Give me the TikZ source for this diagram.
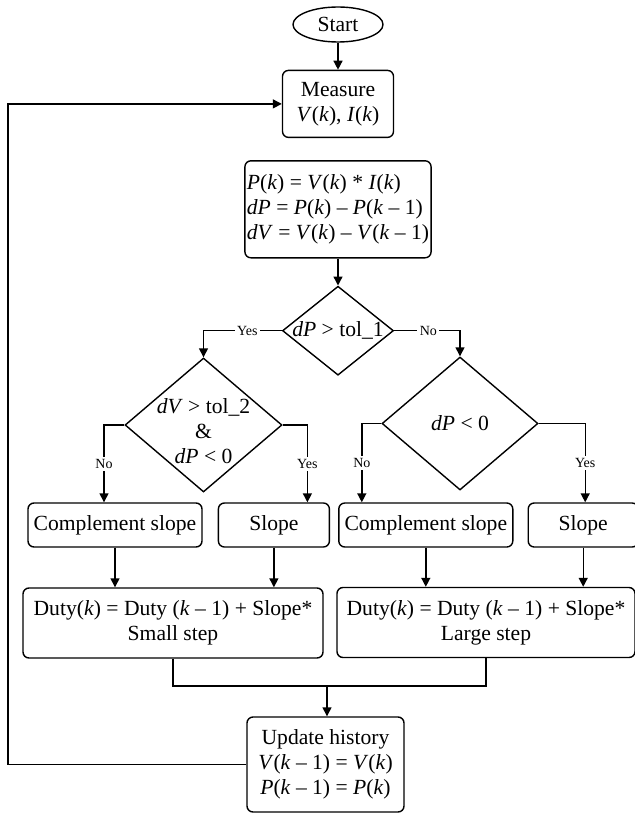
\documentclass[tikz,border=0pt]{standalone}
\usepackage{fontspec}
\setmainfont{Liberation Serif}
\usepackage{tikz}
\usetikzlibrary{arrows.meta, positioning, shapes.geometric}
\newcommand{\iv}[1]{\textit{#1}}

\begin{document}
\begin{tikzpicture}[
  x=0.5pt, y=-0.5pt,
  line width=0.7pt,
  font=\fontsize{10.8}{12.6}\selectfont,
  box/.style={draw, rounded corners=3pt, align=center, inner sep=1pt},
  slopebox/.style={box, minimum height=22pt},
  dutybox/.style={box, minimum width=150pt, minimum height=35pt},
  decision/.style={draw, diamond, inner sep=0pt},
  terminal/.style={draw, ellipse, inner sep=0pt, minimum width=45pt,
                   minimum height=17.5pt},
  lbl/.style={fill=white, inner sep=1.2pt, font=\fontsize{7}{8}\selectfont},
  arrow/.style={-{Triangle[length=4.5pt, width=4.5pt]}}
]
\useasboundingbox (0,0) rectangle (635,813);

\node[terminal] (start) at (338,24.5) {Start};

\node[box, minimum width=55.5pt, minimum height=33.5pt, below=13.5pt of start] (measure)
  {Measure\\\iv{V}(\iv{k}), \iv{I}(\iv{k})};

\node[box, align=left, minimum width=90pt, minimum height=48.5pt, below=11pt of measure] (calc)
  {\iv{P}(\iv{k}) = \iv{V}(\iv{k}) * \iv{I}(\iv{k})\\
   \iv{dP} = \iv{P}(\iv{k}) – \iv{P}(\iv{k} – 1)\\
   \iv{dV} = \iv{V}(\iv{k}) – \iv{V}(\iv{k} – 1)};

\node[decision, minimum width=55.5pt, minimum height=44.5pt, below=13.5pt of calc,
      label=center:{\iv{dP} > tol\_1}] (tol1) {};

\node[decision, minimum width=78.5pt, minimum height=67pt,
      label={[align=center, yshift=-3pt]center:{\iv{dV} > tol\_2\\\&\\\iv{dP} < 0}}]
  (tol2) at (203.5,425) {};

\node[decision, minimum width=78pt, minimum height=66.5pt,
      label=center:{\iv{dP} < 0}] (neg) at (460,423.5) {};

\node[slopebox, minimum width=87pt] (comp1) at (115,525) {Complement slope};
\node[slopebox, minimum width=55.5pt, right=7.5pt of comp1] (slope1) {Slope};
\node[slopebox, minimum width=87pt, right=4pt of slope1] (comp2) {Complement slope};
\node[slopebox, minimum width=55pt, right=7pt of comp2] (slope2) {Slope};

\node[dutybox] (duty1) at (173,623)
  {Duty(\iv{k}) = Duty (\iv{k} – 1) + Slope*\\Small step};
\node[dutybox, minimum width=149pt] (duty2) at (486,622.5)
  {Duty(\iv{k}) = Duty (\iv{k} – 1) + Slope*\\Large step};

\node[box, minimum width=78.5pt, minimum height=47.5pt] (update) at (325.5,764.5)
  {Update history\\\iv{V}(\iv{k} – 1) = \iv{V}(\iv{k})\\\iv{P}(\iv{k} – 1) = \iv{P}(\iv{k})};

\coordinate (join) at (327,686);
\coordinate (loop) at (8,764.5);

% main column
\draw[arrow] (start) -- (measure);
\draw[arrow] (calc) -- (tol1);

% branches
\draw[arrow] (tol1.west) -| node[lbl, pos=0.22]{Yes} (tol2.north);
\draw[arrow] (tol1.east) -| node[lbl, pos=0.26]{No} (neg.north);
\draw[arrow] (tol2.west) -| node[lbl, pos=0.75]{No} ([xshift=-5.5pt]comp1.north);
\draw[arrow] (tol2.east) -| node[lbl, pos=0.75]{Yes} ([xshift=16.75pt]slope1.north);
\draw[arrow] (neg.west) -| node[lbl, pos=0.75]{No} ([xshift=-32pt]comp2.north);
\draw[arrow] (neg.east) -| node[lbl, pos=0.75]{Yes} ([xshift=1pt]slope2.north);

% slopes into duty
\draw[arrow] (comp1.south) -- (comp1.south |- duty1.north);
\draw[arrow] (slope1.south) -- (slope1.south |- duty1.north);
\draw[arrow] (comp2.south) -- (comp2.south |- duty2.north);
\draw[arrow] (slope2.south) -- (slope2.south |- duty2.north);

% merge and loop back
\draw (duty1.south) |- (join) -| (duty2.south);
\draw[arrow] (join) -- (join |- update.north);
\draw[arrow] (update.west) -- (loop) |- (measure.west);

\end{tikzpicture}
\end{document}
